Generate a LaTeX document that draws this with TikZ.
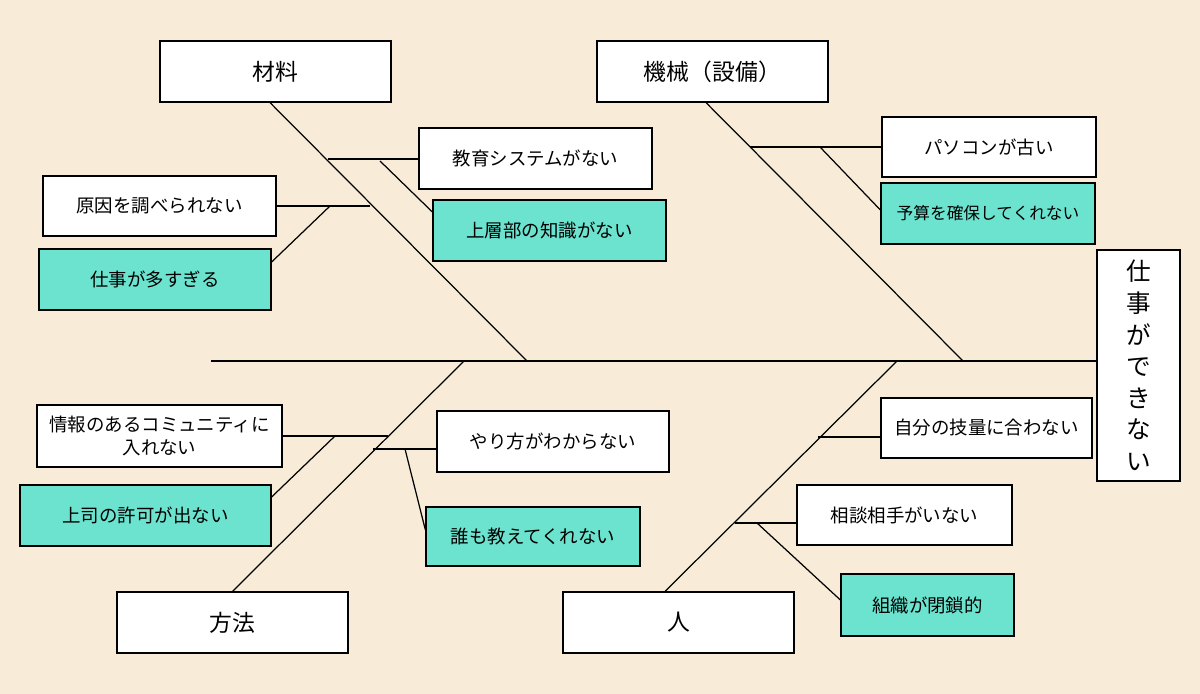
\documentclass[tikz,border=0pt]{standalone}
\usepackage{fontspec}
\setmainfont{Noto Sans CJK JP}
\usetikzlibrary{positioning, calc}
\definecolor{cream}{HTML}{F8ECD9}
\definecolor{teal}{HTML}{6BE3CF}
\tikzstyle{cause} = [rectangle, draw=black, line width=0.7pt, fill=white, font=\fontsize{13}{15}\selectfont, minimum width=46.2mm, minimum height=12.2mm, align=center]
\tikzstyle{item} = [rectangle, draw=black, line width=0.7pt, fill=white, font=\fontsize{10.5}{13}\selectfont, align=center, inner sep=0pt]
\tikzstyle{hot} = [item, fill=teal]
\tikzstyle{bone} = [line width=0.7pt]
\begin{document}
\begin{tikzpicture}[x=0.2mm, y=-0.2mm]
      % background
      \fill[cream] (0,0) rectangle (1200,694);
      \useasboundingbox (0,0) rectangle (1200,694);

      % main categories
      \node[cause] (mat) at (275.5,71.5) {材料};
      \node[cause] (mac) at (712.5,71.5) {機械（設備）};
      \node[cause] (met) at (232.5,622.5) {方法};
      \node[cause] (per) at (678.5,622.5) {人};

      % effect
      \node[item, font=\fontsize{14}{18}\selectfont, minimum width=16.6mm, minimum height=46.2mm]
        (eff) at (1138.5,365.5) {仕\\事\\が\\で\\き\\な\\い};

      % items
      \node[item, minimum width=46.6mm, minimum height=12.2mm] (edu) at (535.5,158.5) {教育システムがない};
      \node[hot, minimum width=46.6mm, minimum height=12.2mm] (top) at (549.5,230.5) {上層部の知識がない};
      \node[item, minimum width=46.6mm, minimum height=12mm] (why) at (159.5,206) {原因を調べられない};
      \node[hot, minimum width=46.4mm, minimum height=12.2mm] (busy) at (155,279.5) {仕事が多すぎる};
      \node[item, minimum width=42.8mm, minimum height=12mm] (pc) at (989,147) {パソコンが古い};
      \node[hot, font=\fontsize{9.5}{12}\selectfont, minimum width=42.8mm, minimum height=12.2mm] (bud) at (988,213.5) {予算を確保してくれない};
      \node[item, minimum width=49mm, minimum height=12.4mm] (com) at (159.5,436) {情報のあるコミュニティに\\入れない};
      \node[hot, minimum width=50.2mm, minimum height=12.2mm] (boss) at (145.5,515.5) {上司の許可が出ない};
      \node[item, minimum width=46.4mm, minimum height=12.2mm] (how) at (553,441.5) {やり方がわからない};
      \node[hot, minimum width=42.8mm, minimum height=11.8mm] (none) at (533,536.5) {誰も教えてくれない};
      \node[item, minimum width=42.2mm, minimum height=12mm] (skill) at (986.5,428) {自分の技量に合わない};
      \node[item, minimum width=43mm, minimum height=12mm] (talk) at (904.5,515) {相談相手がいない};
      \node[hot, minimum width=34.6mm, minimum height=12.4mm] (org) at (927.5,605) {組織が閉鎖的};

      % spine and main bones
      \coordinate (tail) at (211,361);
      \draw[bone] (tail) -- (eff.west |- tail);
      \coordinate (j1) at (527,361);
      \coordinate (j2) at (963,361);
      \coordinate (j3) at (464,361);
      \coordinate (j4) at (897,361);
      \draw[bone] (mat.south -| 270,0) -- (j1);
      \draw[bone] (mac.south -| 706,0) -- (j2);
      \draw[bone] (met.north) -- (j3);
      \draw[bone] (per.north -| 665,0) -- (j4);

      % small bones
      \coordinate (a1) at (328,159);
      \coordinate (a2) at (380,161);
      \draw[bone] (a1) -- (edu.west |- a1);
      \draw[bone] (a2) -- (top.west |- 0,212);
      \coordinate (b1) at (370,206);
      \coordinate (b2) at (330,206);
      \draw[bone] (b1) -- (why.east |- b1);
      \draw[bone] (b2) -- (busy.east |- 0,262);
      \coordinate (c1) at (750,147);
      \coordinate (c2) at (820,147);
      \draw[bone] (c1) -- (pc.west |- c1);
      \draw[bone] (c2) -- (bud.west |- 0,210);
      \coordinate (d1) at (388,436);
      \coordinate (d2) at (335,436);
      \draw[bone] (d1) -- (com.east |- d1);
      \draw[bone] (d2) -- (boss.east |- 0,497);
      \coordinate (e1) at (373,449);
      \coordinate (e2) at (405,449);
      \draw[bone] (e1) -- (how.west |- e1);
      \draw[bone] (e2) -- (none.west |- 0,530);
      \coordinate (f1) at (818,437);
      \draw[bone] (f1) -- (skill.west |- f1);
      \coordinate (g1) at (735,523);
      \coordinate (g2) at (757,523);
      \draw[bone] (g1) -- (talk.west |- g1);
      \draw[bone] (g2) -- (org.west |- 0,600);
\end{tikzpicture}
\end{document}
